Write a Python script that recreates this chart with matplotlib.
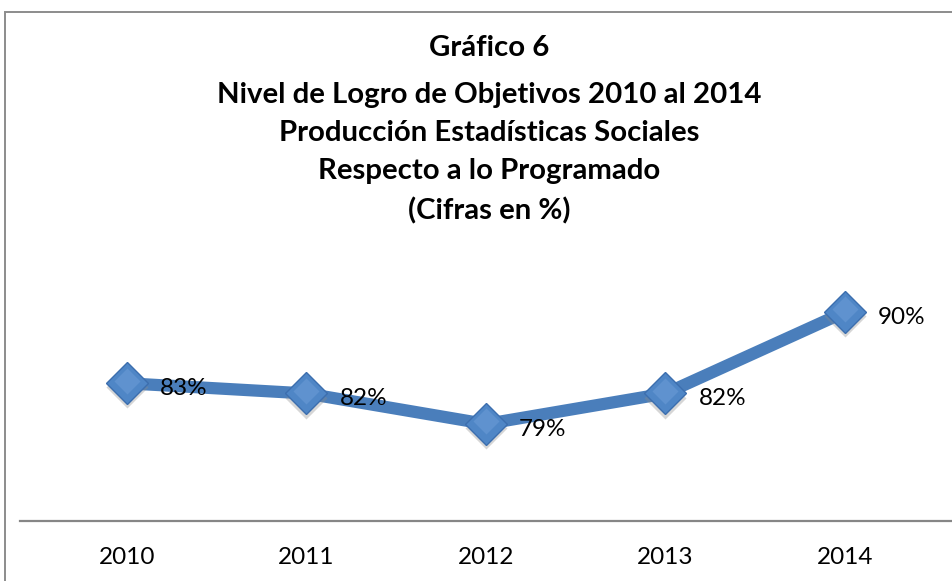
import matplotlib
matplotlib.use("Agg")
import matplotlib.pyplot as plt
from matplotlib.patches import Rectangle
from matplotlib.lines import Line2D

years = ["2010", "2011", "2012", "2013", "2014"]
values = [83, 82, 79, 82, 90]
labels = ["83%", "82%", "79%", "82%", "90%"]
title_lines = ["Gráfico 6",
               "Nivel de Logro de Objetivos 2010 al 2014",
               "Producción Estadísticas Sociales",
               "Respecto a lo Programado",
               "(Cifras en %)"]

W, H = 953, 581
fig = plt.figure(figsize=(W / 100, H / 100), dpi=100)
fig.patch.set_facecolor("white")
ax = fig.add_axes([0, 0, 1, 1])
ax.set_facecolor("none")

xs = list(range(len(years)))
px_per_cat = 179.5
x0_px = 127
ax.set_xlim(-x0_px / px_per_cat, (W - x0_px) / px_per_cat)
ppu = 10.18
ax.set_ylim(79 - (H - 424) / ppu, 79 + 424 / ppu)
for s in ax.spines.values():
    s.set_visible(False)
ax.set_xticks([])
ax.set_yticks([])

font = "Lato"

# frame
fig.patches.append(Rectangle((5 / W, -0.05), 1.1, 1 - 12 / H + 0.05,
                             transform=fig.transFigure, fill=False,
                             edgecolor="#8c8c8c", linewidth=1.4))
# category axis line
fig.lines.append(Line2D([20 / W, 1.0], [1 - 521 / H, 1 - 521 / H],
                        transform=fig.transFigure, color="#868686", linewidth=1.6))

ax.plot(xs, values, color="#4a7ebb", linewidth=8.8, solid_capstyle="butt", zorder=2)
# marker shadow
ax.plot(xs, [v - 0.4 for v in values], linestyle="none", marker="D",
        markersize=21.5, markerfacecolor="#8a8a8a", markeredgecolor="none",
        alpha=0.35, zorder=2.5)
ax.plot(xs, values, linestyle="none", marker="D", markersize=21.5,
        markerfacecolor="#4f86c6", markeredgecolor="#3c6eae",
        markeredgewidth=1.0, zorder=3)
ax.plot(xs, [v + 0.25 for v in values], linestyle="none", marker="D", markersize=13,
        markerfacecolor="#6a9bd6", markeredgecolor="none", alpha=0.6, zorder=3.5)

for x, v, lab in zip(xs, values, labels):
    ax.annotate(lab, (x, v), xytext=(33, -5), textcoords="offset pixels",
                ha="left", va="center", fontsize=17.5, family=font, color="black",
                zorder=4)

for i, y in enumerate(years):
    fig.text((x0_px + i * px_per_cat) / W, 1 - 557 / H, y, ha="center", va="center",
             fontsize=17.5, family=font, color="black")

title_y = [48, 95, 133, 171, 211]
for t, y in zip(title_lines, title_y):
    fig.text(489 / W, 1 - y / H, t, ha="center", va="center", fontsize=21.2,
             fontweight="bold", family=font, color="black")

fig.savefig("out.png", dpi=100)
